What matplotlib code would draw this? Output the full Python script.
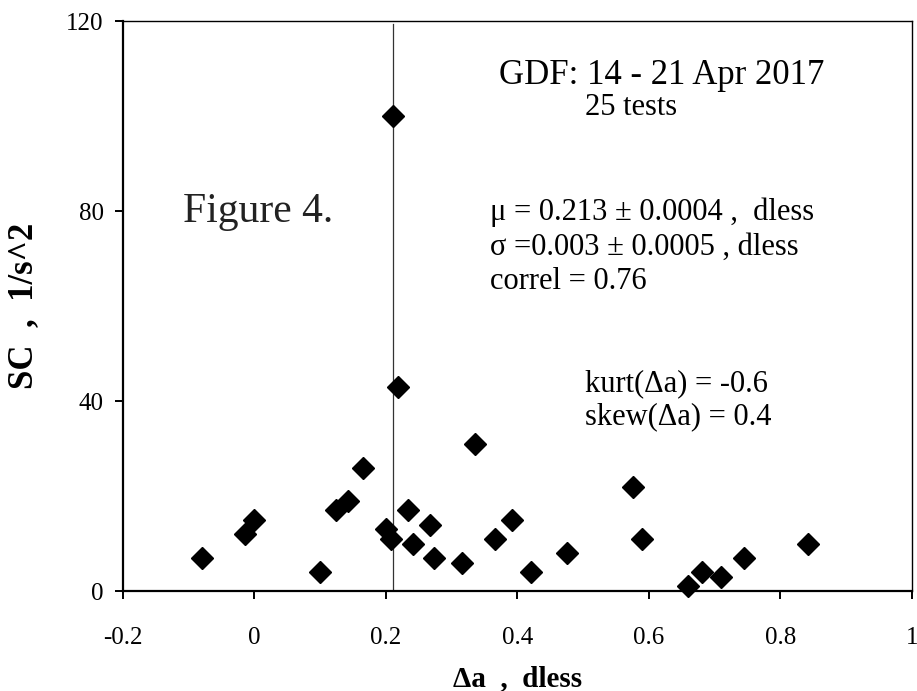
import matplotlib
matplotlib.use("Agg")
import matplotlib.pyplot as plt

plt.rcParams['font.family'] = ['Liberation Serif', 'DejaVu Serif']

# points
da = [-0.08, -0.015, 0.0, 0.1, 0.124, 0.142, 0.165, 0.2, 0.208, 0.219,
      0.234, 0.241, 0.267, 0.273, 0.315, 0.336, 0.366, 0.392, 0.42, 0.476,
      0.575, 0.589, 0.66, 0.681, 0.709, 0.745, 0.842, 0.21]
sc = [7, 12, 15, 4, 17, 19, 26, 13, 11, 43,
      17, 10, 14, 7, 6, 31, 11, 15, 4, 8,
      22, 11, 1, 4, 3, 7, 10, 100]
mu = 0.21

xticks = [-0.2, 0, 0.2, 0.4, 0.6, 0.8, 1.0]
xlabels = ['-0.2', '0', '0.2', '0.4', '0.6', '0.8', '1']
yticks = [0, 40, 80, 120]

fig = plt.figure(figsize=(9.17, 6.91), dpi=100)
ax = fig.add_subplot(111)
fig.subplots_adjust(left=0.1341, right=0.9945, bottom=0.1447, top=0.9696)

ax.plot([mu, mu], [0, 119.4], color='#333333', lw=0.9, zorder=1)
ax.plot(da, sc, 'D', color='black', ms=10.8, zorder=3, clip_on=False)

ax.set_xlim(-0.2, 1.0)
ax.set_ylim(0, 120)
ax.set_xticks(xticks)
ax.set_xticklabels(xlabels)
ax.set_yticks(yticks)
ax.set_yticklabels([str(v) for v in yticks])

for s in ['left', 'bottom']:
    ax.spines[s].set_linewidth(1.6)
for s in ['top', 'right']:
    ax.spines[s].set_linewidth(1.0)

ax.tick_params(axis='both', direction='out', length=6, width=1.4, labelsize=18)
ax.tick_params(axis='x', pad=20)
ax.tick_params(axis='y', pad=8)

ax.set_xlabel('Δa  ,  dless', fontsize=21, fontweight='bold')
ax.set_ylabel('SC  ,  1/s^2', fontsize=25, fontweight='bold')
ax.xaxis.set_label_coords(0.5, -0.13)
ax.yaxis.set_label_coords(-0.105, 0.5)

ax.text(0.372, 106.7, 'GDF: 14 - 21 Apr 2017', fontsize=25, va='baseline')
ax.text(0.503, 100.2, '25 tests', fontsize=22, va='baseline')
ax.text(-0.109, 77.7, 'Figure 4.', fontsize=30, va='baseline', color='#222222')
ax.text(0.358, 78.1, 'μ = 0.213 ± 0.0004 ,  dless', fontsize=22, va='baseline')
ax.text(0.358, 70.7, 'σ =0.003 ± 0.0005 , dless', fontsize=22, va='baseline')
ax.text(0.358, 63.6, 'correl = 0.76', fontsize=22, va='baseline')
ax.text(0.503, 42.1, 'kurt(Δa) = -0.6', fontsize=22, va='baseline')
ax.text(0.503, 35.2, 'skew(Δa) = 0.4', fontsize=22, va='baseline')

plt.savefig('out.png', dpi=100)
